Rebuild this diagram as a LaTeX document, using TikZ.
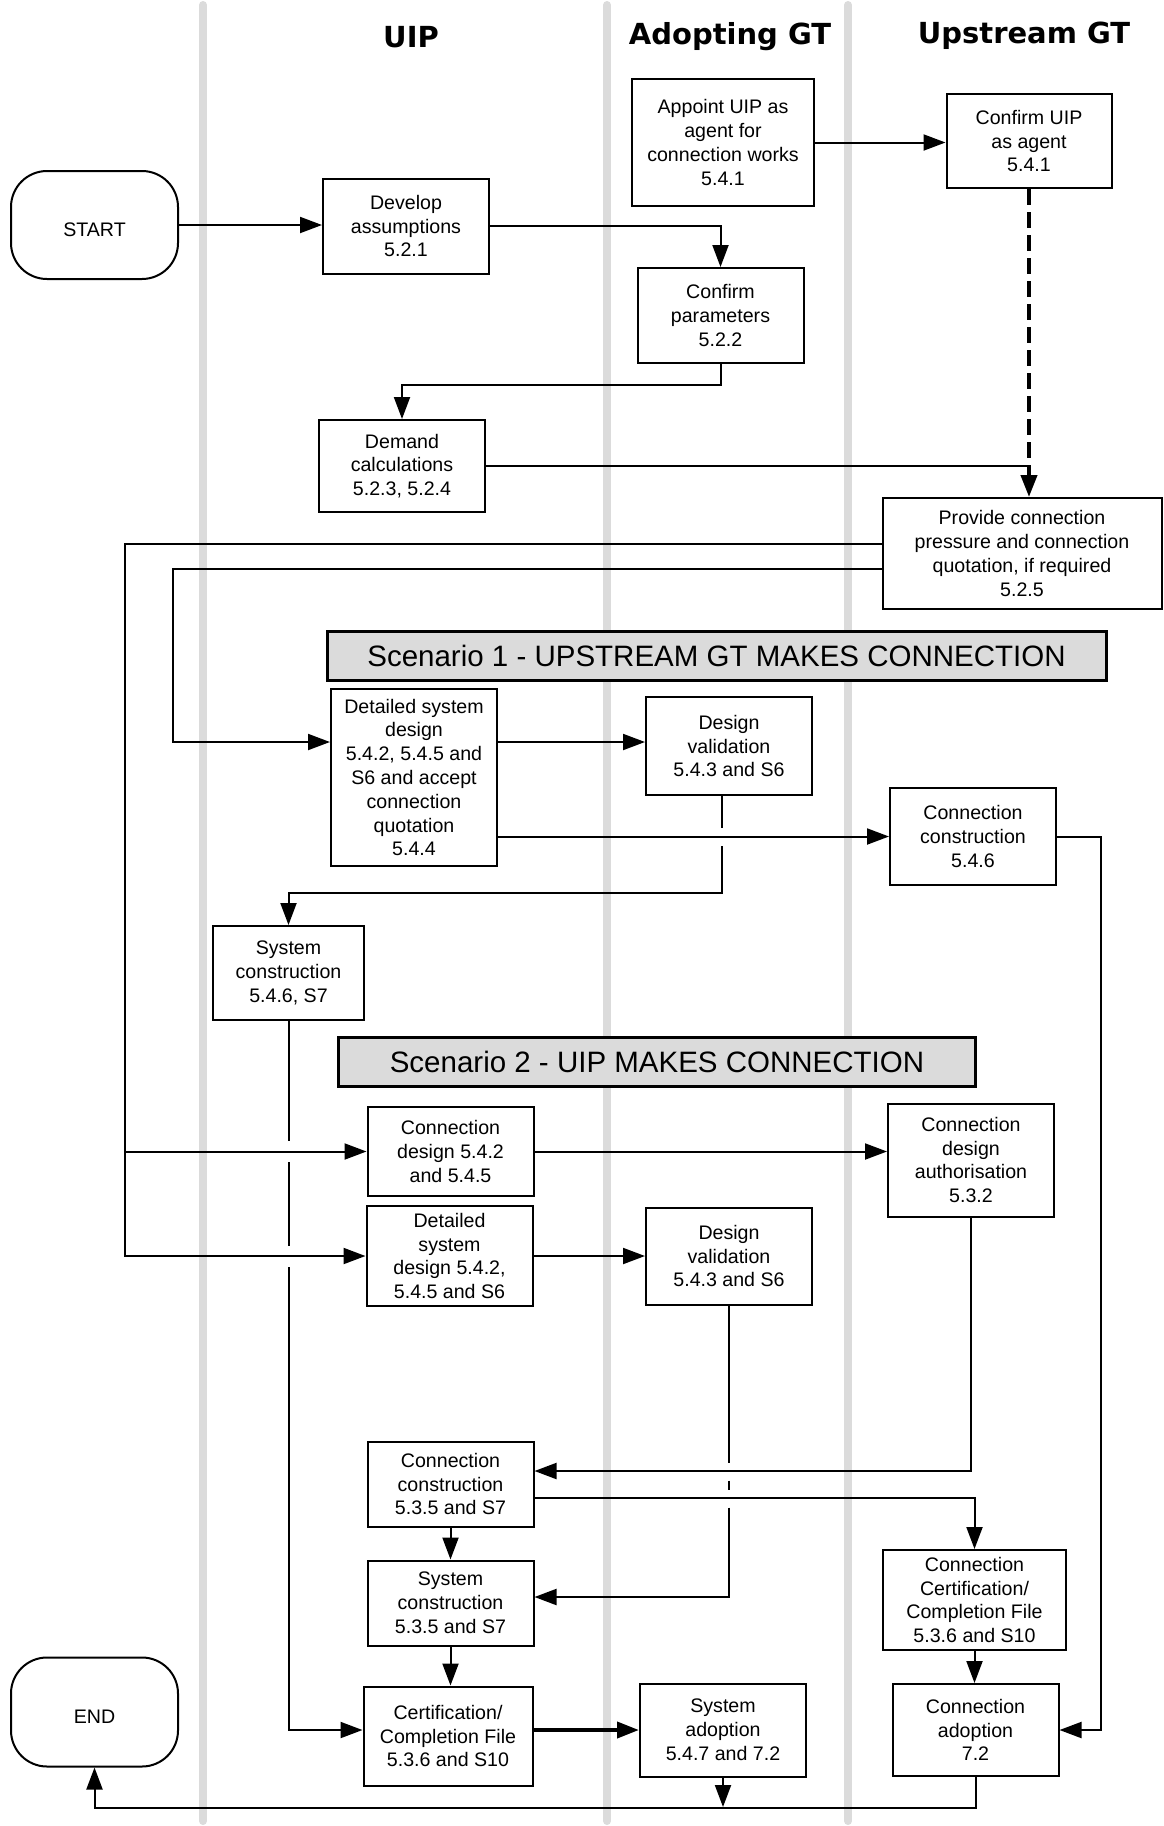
\documentclass[tikz,border=0pt]{standalone}
\usepackage{fontspec}
\setmainfont{Liberation Sans}
\newfontfamily\headfont{DejaVu Sans}
\usetikzlibrary{arrows.meta,calc}

\begin{document}
\begin{tikzpicture}[x=1pt,y=-1pt,
    box/.style={draw,fill=white,line width=2pt,align=center,inner sep=0pt,
        execute at begin node={\rule{0pt}{23.5pt}},
        minimum width=166pt,minimum height=95pt,font=\fontsize{19.6}{23.8}\selectfont},
    term/.style={box,rounded corners=36pt,minimum width=167pt,minimum height=108pt},
    scen/.style={draw,line width=3pt,fill=black!14,inner sep=0pt,minimum height=49pt,
        font=\fontsize{29.5}{34}\selectfont},
    lane/.style={line width=8pt,black!14,line cap=round},
    head/.style={font=\headfont\bfseries\fontsize{29}{34}\selectfont},
    arr/.style={line width=2pt,-{Triangle[length=22pt,width=16pt]}},
    link/.style={line width=2pt}]

    \useasboundingbox (0,0) rectangle (1163,1826);

    % swimlanes
    \foreach \x in {203,607,848}
        \draw[lane] (\x,5) -- (\x,1821);

    \node[head] (hUIP) at (411,37) {UIP};
    \node[head] (hAdopt) at (730,37) {Adopting GT};
    \node[head] (hUp) at (1024,36) {Upstream GT};

    \node[term] (start) at (94.5,225) {START};
    \node[box] (devass) at (406,226) {Develop\\assumptions\\5.2.1};
    \node[box,minimum width=182pt,minimum height=127pt] (appoint) at (723,142.5) {Appoint UIP as\\agent for\\connection works\\5.4.1};
    \node[box,minimum width=165pt,minimum height=94pt] (confuip) at (1029,141) {Confirm UIP\\as agent\\5.4.1};
    \node[box] (confpar) at (720.5,315.5) {Confirm\\parameters\\5.2.2};
    \node[box,minimum height=92pt] (demand) at (402,466) {Demand\\calculations\\5.2.3, 5.2.4};
    \node[box,minimum width=279pt,minimum height=111pt] (provide) at (1022,553.5) {Provide connection\\pressure and connection\\quotation, if required\\5.2.5};

    % scenario 1
    \node[scen,minimum width=779pt] (scen1) at (716.5,656) {Scenario 1 - UPSTREAM GT MAKES CONNECTION};
    \node[box,minimum height=177pt] (dets1) at (414,777.5) {Detailed system\\design\\5.4.2, 5.4.5 and\\S6 and accept\\connection\\quotation\\5.4.4};
    \node[box,minimum height=98pt] (desval1) at (729,746) {Design\\validation\\5.4.3 and S6};
    \node[box,minimum height=97pt] (conncons1) at (973,836.5) {Connection\\construction\\5.4.6};
    \node[box,minimum width=151pt,minimum height=94pt] (syscons1) at (288.5,973) {System\\construction\\5.4.6, S7};

    % scenario 2
    \node[scen,minimum width=637pt] (scen2) at (657,1062) {Scenario 2 - UIP MAKES CONNECTION};
    \node[box,minimum height=89pt] (conndes2) at (450.5,1151.5) {Connection\\design 5.4.2\\and 5.4.5};
    \node[box,minimum height=113pt] (connauth) at (971,1160) {Connection\\design\\authorisation\\5.3.2};
    \node[box,minimum height=100pt] (dets2) at (449.5,1256) {Detailed\\system\\design 5.4.2,\\5.4.5 and S6};
    \node[box,minimum height=97pt] (desval2) at (729,1256) {Design\\validation\\5.4.3 and S6};
    \node[box,minimum height=85pt] (conncons2) at (450.5,1484) {Connection\\construction\\5.3.5 and S7};
    \node[box,minimum height=85pt] (syscons2) at (450.5,1603) {System\\construction\\5.3.5 and S7};
    \node[box,minimum width=169pt,minimum height=99pt] (certfile) at (448,1736) {Certification/\\Completion File\\5.3.6 and S10};
    \node[box,minimum height=93pt] (sysadopt) at (723,1730) {System\\adoption\\5.4.7 and 7.2};
    \node[box,minimum width=183pt,minimum height=100pt] (conncert) at (974.5,1600) {Connection\\Certification/\\Completion File\\5.3.6 and S10};
    \node[box,minimum height=92pt] (connadopt) at (975.5,1730) {Connection\\adoption\\7.2};
    \node[term,minimum height=109pt] (finish) at (94.5,1712) {END};

    % top part
    \draw[arr] (start.east) -- (start.east -| devass.west);
    \draw[arr] (devass.east) -| (confpar.north);
    \draw[arr] (appoint.east) -- (appoint.east -| confuip.west);
    \draw[arr,line width=4pt,dash pattern=on 16pt off 7pt] (confuip.south) -- (confuip.south |- provide.north);
    \draw[link] (demand.east) -- (demand.east -| confuip.south);
    \draw[arr] (confpar.south) -- ++(0,21) -| (demand.north);

    % from the quotation
    \coordinate (busA) at (124.5,0);
    \coordinate (busB) at (173,0);
    \coordinate (dets1in) at ($(dets1.north west)+(0,54)$);
    \draw[arr] ($(provide.west)+(0,-10)$) -| (busA |- conndes2.west) -- (conndes2.west);
    \draw[arr] (busA |- conndes2.west) |- (dets2.west);
    \draw[arr] ($(provide.west)+(0,15.5)$) -| (busB |- dets1in) -- (dets1in);

    % scenario 1
    \draw[arr] (dets1in -| dets1.east) -- (dets1in -| desval1.west);
    \draw[arr] (dets1.east |- conncons1.west) -- (conncons1.west);
    \draw[arr] ($(desval1.south)+(-7,0)$) -- ++(0,32) ++(0,18) -- ++(0,46.5) -| (syscons1.north);
    \draw[arr] (conncons1.east) -- ++(44,0) |- (connadopt.east);

    % scenario 2
    \draw[arr] (conndes2.east) -- (conndes2.east -| connauth.west);
    \draw[arr] (dets2.east) -- (desval2.west);
    \draw[arr] (connauth.south) |- ($(conncons2.east)+(0,-13)$);
    \draw[arr] ($(conncons2.east)+(0,14)$) -| (conncert.north);
    \draw[arr] (desval2.south) -- ++(0,157) ++(0,18) -- ++(0,9) ++(0,18) |- ($(syscons2.east)+(0,-6)$);
    \draw[arr] (syscons1.south) -- (syscons1.south |- 0,1141) ++(0,21) -- (syscons1.south |- 0,1246) ++(0,21) |- (certfile.west |- sysadopt.west);
    \draw[arr] (conncons2.south) -- (syscons2.north);
    \draw[arr] (syscons2.south) -- (syscons2.south |- certfile.north);
    \draw[arr,line width=4pt] (certfile.east |- sysadopt.west) -- (sysadopt.west);
    \draw[arr] (conncert.south) -- (conncert.south |- connadopt.north);
    \draw[arr] (connadopt.south) -- ++(0,31) -| (finish.south);
    \draw[arr] (sysadopt.south) -- (sysadopt.south |- 0,1807);
\end{tikzpicture}
\end{document}
